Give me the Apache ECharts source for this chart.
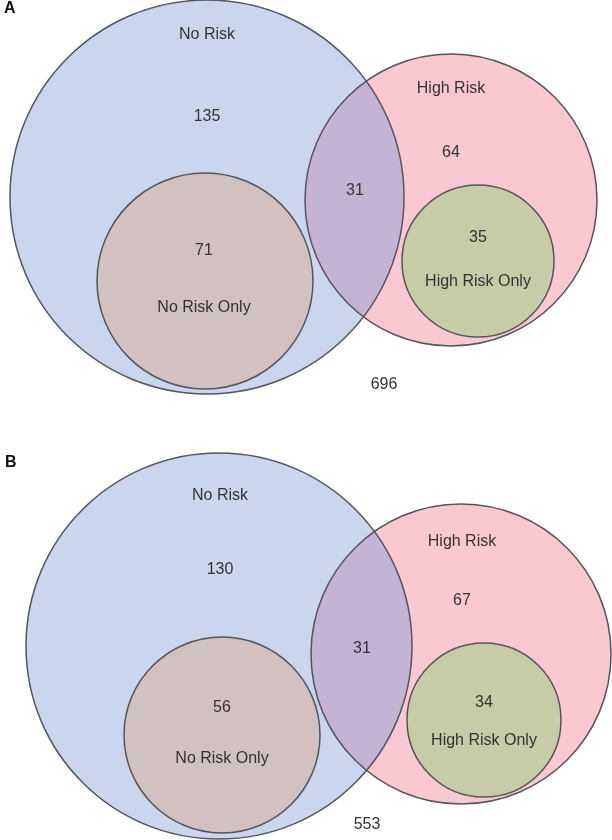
<!DOCTYPE html>
<html>
<head>
<meta charset="utf-8">
<script src="https://cdn.jsdelivr.net/npm/echarts@6/dist/echarts.min.js"></script>
<style>
html,body{margin:0;padding:0;background:#fff;}
#chart{width:612px;height:840px;}
</style>
</head>
<body>
<div id="chart"></div>
<script>
// ---- data ----
const panelLabels = ['A', 'B'];
const setNames = ['No Risk', 'High Risk', 'No Risk Only', 'High Risk Only'];
const noRiskCounts = [135, 130];
const highRiskCounts = [64, 67];
const overlapCounts = [31, 31];
const noRiskOnlyCounts = [71, 56];
const highRiskOnlyCounts = [35, 34];
const outsideCounts = [696, 553];

// ---- layout (diagram units = page pixels on hidden axes) ----
// circles per panel: [cx, cy, r]
const layout = [
  {
    panel: [4, 9],
    noRisk: [207, 197, 197], highRisk: [451, 200, 146],
    noRiskOnly: [205, 281, 108], highRiskOnly: [478, 261, 76],
    tNoRisk: [207, 35], cNoRisk: [207, 117],
    tHigh: [451, 89], cHigh: [451, 153],
    cOverlap: [355, 191],
    cHighOnly: [478, 238], tHighOnly: [478, 282],
    cNoOnly: [204, 251], tNoOnly: [204, 308],
    cOutside: [384, 385]
  },
  {
    panel: [5, 463],
    noRisk: [219, 646, 193], highRisk: [461, 654, 150],
    noRiskOnly: [222, 735, 98], highRiskOnly: [484, 720, 77],
    tNoRisk: [220, 496], cNoRisk: [220, 570],
    tHigh: [462, 542], cHigh: [462, 601],
    cOverlap: [362, 649],
    cHighOnly: [484, 703], tHighOnly: [484, 741],
    cNoOnly: [222, 708], tNoOnly: [222, 759],
    cOutside: [367, 825]
  }
];

const colors = {
  noRisk: '#cad6ee', highRisk: '#f9c8d0', overlap: '#c5b3d5',
  noRiskOnly: '#d1c1c1', highRiskOnly: '#c6cba8', stroke: '#55555c', text: '#333333'
};

// Build circle records: [cx, cy, r, kind]
const circleData = [];
const lensData = [];
const textData = [];
layout.forEach((L, i) => {
  circleData.push([...L.noRisk, 'noRisk', 'fill']);
  circleData.push([...L.highRisk, 'highRisk', 'fill']);
  lensData.push([...L.noRisk, ...L.highRisk]);
  textData.push([...L.panel, panelLabels[i], 'panel']);
  textData.push([...L.tNoRisk, setNames[0], 'n']);
  textData.push([...L.cNoRisk, String(noRiskCounts[i]), 'n']);
  textData.push([...L.tHigh, setNames[1], 'n']);
  textData.push([...L.cHigh, String(highRiskCounts[i]), 'n']);
  textData.push([...L.cOverlap, String(overlapCounts[i]), 'n']);
  textData.push([...L.cNoOnly, String(noRiskOnlyCounts[i]), 'n']);
  textData.push([...L.tNoOnly, setNames[2], 'n']);
  textData.push([...L.cHighOnly, String(highRiskOnlyCounts[i]), 'n']);
  textData.push([...L.tHighOnly, setNames[3], 'n']);
  textData.push([...L.cOutside, String(outsideCounts[i]), 'n']);
});
const outlineData = [];
const innerData = [];
layout.forEach(L => {
  outlineData.push([...L.noRisk, 'noRisk']);
  outlineData.push([...L.highRisk, 'highRisk']);
  innerData.push([...L.noRiskOnly, 'noRiskOnly']);
  innerData.push([...L.highRiskOnly, 'highRiskOnly']);
});

function circleRender(fill, stroke) {
  return function (params, api) {
    const c = api.coord([api.value(0), api.value(1)]);
    const s = api.size([api.value(2), api.value(2)]);
    const kind = api.value(3);
    return {
      type: 'ellipse',
      shape: { cx: c[0], cy: c[1], rx: s[0], ry: s[1] },
      style: { fill: fill ? colors[kind] : 'none', stroke: stroke ? colors.stroke : 'none', lineWidth: 1.5 }
    };
  };
}

function lensRender(params, api) {
  const a = api.coord([api.value(0), api.value(1)]);
  const r1 = api.size([api.value(2), api.value(2)])[0];
  const b = api.coord([api.value(3), api.value(4)]);
  const r2 = api.size([api.value(5), api.value(5)])[0];
  const dx = b[0] - a[0], dy = b[1] - a[1];
  const d = Math.sqrt(dx * dx + dy * dy);
  const t = (r1 * r1 - r2 * r2 + d * d) / (2 * d);
  const h = Math.sqrt(Math.max(0, r1 * r1 - t * t));
  const px = a[0] + t * dx / d, py = a[1] + t * dy / d;
  const p1 = [px + h * dy / d, py - h * dx / d];
  const p2 = [px - h * dy / d, py + h * dx / d];
  const pts = [];
  const N = 80;
  function arc(cx, cy, r, from, to, sweepShort) {
    let a0 = Math.atan2(from[1] - cy, from[0] - cx);
    let a1 = Math.atan2(to[1] - cy, to[0] - cx);
    let da = a1 - a0;
    while (da > Math.PI) da -= 2 * Math.PI;
    while (da < -Math.PI) da += 2 * Math.PI;
    for (let k = 0; k <= N; k++) {
      const ang = a0 + da * k / N;
      pts.push([cx + r * Math.cos(ang), cy + r * Math.sin(ang)]);
    }
  }
  arc(a[0], a[1], r1, p1, p2);
  arc(b[0], b[1], r2, p2, p1);
  return {
    type: 'polygon',
    shape: { points: pts },
    style: { fill: colors.overlap, stroke: 'none' }
  };
}

function textRender(params, api) {
  const c = api.coord([api.value(0), api.value(1)]);
  const kind = api.value(3);
  const isPanel = kind === 'panel';
  return {
    type: 'text',
    x: c[0], y: c[1],
    style: {
      text: api.value(2),
      fill: isPanel ? '#111' : colors.text,
      font: (isPanel ? 'bold 16px' : '16px') + ' "Liberation Sans", Arial, sans-serif',
      align: isPanel ? 'left' : 'center',
      verticalAlign: 'middle'
    }
  };
}

const chart = echarts.init(document.getElementById('chart'), null, { renderer: 'canvas' });
chart.setOption({
  animation: false,
  backgroundColor: '#ffffff',
  grid: { left: 0, right: 0, top: 0, bottom: 0 },
  xAxis: { type: 'value', min: 0, max: 612, show: false },
  yAxis: { type: 'value', min: 0, max: 840, inverse: true, show: false },
  series: [
    { type: 'custom', coordinateSystem: 'cartesian2d', clip: false, data: circleData, renderItem: circleRender(true, false), z: 1 },
    { type: 'custom', coordinateSystem: 'cartesian2d', clip: false, data: lensData, renderItem: lensRender, z: 2 },
    { type: 'custom', coordinateSystem: 'cartesian2d', clip: false, data: outlineData, renderItem: circleRender(false, true), z: 3 },
    { type: 'custom', coordinateSystem: 'cartesian2d', clip: false, data: innerData, renderItem: circleRender(true, true), z: 4 },
    { type: 'custom', coordinateSystem: 'cartesian2d', clip: false, data: textData, renderItem: textRender, z: 5 }
  ]
});
</script>
</body>
</html>
